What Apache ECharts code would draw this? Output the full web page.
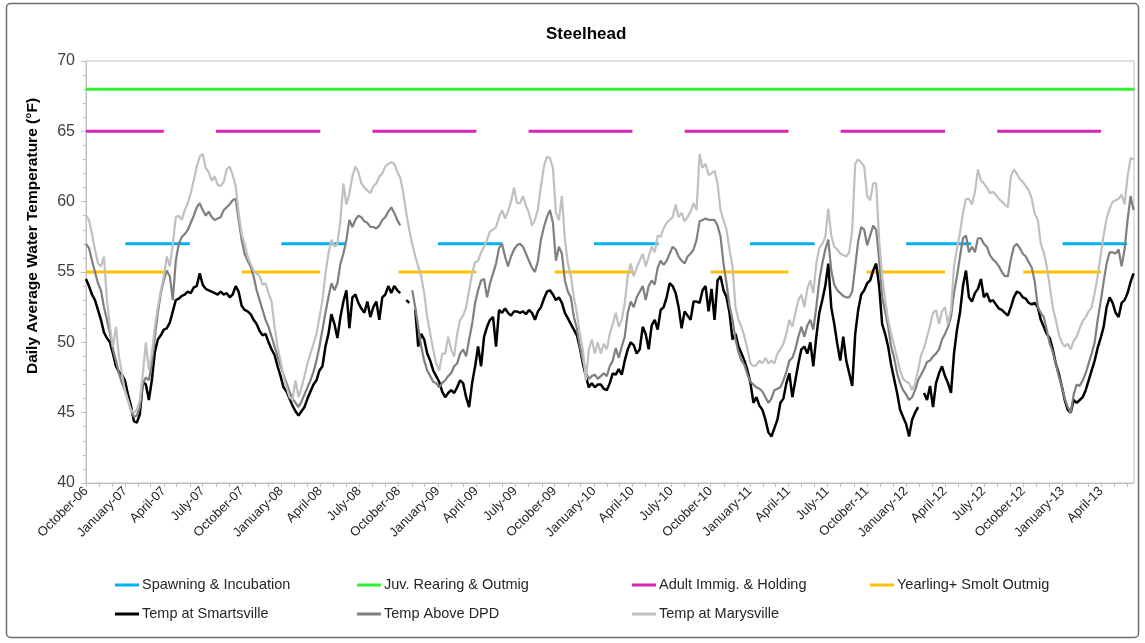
<!DOCTYPE html>
<html>
<head>
<meta charset="utf-8">
<title>Steelhead</title>
<script src="https://cdn.jsdelivr.net/npm/echarts@6/dist/echarts.min.js"></script>
<style>
  html, body { margin: 0; padding: 0; background: #ffffff; }
  #chart { width: 1145px; height: 643px; }
</style>
</head>
<body>
<div id="chart"></div>
<script>
// ---- Daily average water temperature (°F), sampled weekly from 1 Oct 2006 ----
const sampleStart = '2006-10-01';
const sampleStepDays = 7;

const tempSmartsville = [
  54.5, 54.0, 53.4, 53.0, 52.3, 51.6, 50.7, 50.3, 50.0, 49.2,
  48.3, 47.9, 47.7, 47.3, 46.3, 45.5, 44.4, 44.3, 44.9, 47.2,
  47.0, 45.9, 47.3, 49.3, 50.2, 50.5, 50.9, 51.0, 51.4, 52.2,
  53.0, 53.1, 53.3, 53.4, 53.6, 53.5, 53.9, 54.0, 54.9, 54.1,
  53.8, 53.7, 53.6, 53.5, 53.4, 53.6, 53.4, 53.5, 53.2, 53.4,
  54.0, 53.6, 52.6, 52.3, 52.2, 52.0, 51.6, 51.3, 50.8, 50.5,
  50.6, 50.0, 49.5, 49.1, 48.3, 47.6, 46.8, 46.5, 46.0, 45.5,
  45.1, 44.8, 45.1, 45.4, 46.0, 46.5, 47.0, 47.3, 48.0, 48.3,
  49.7, 50.6, 52.0, 51.3, 50.3, 51.8, 52.9, 53.7, 51.0, 53.2,
  53.4, 52.8, 52.4, 52.1, 52.9, 51.8, 52.5, 52.9, 51.6, 53.2,
  53.4, 54.0, 53.5, 54.0, 53.7, 53.5, null, 53.0, 52.8, null,
  52.3, 49.7, 50.6, 50.2, 49.2, 48.7, 48.0, 47.6, 47.2, 46.5,
  46.1, 46.4, 46.6, 46.4, 46.8, 47.3, 47.1, 46.1, 45.4, 47.1,
  48.3, 49.7, 48.3, 50.4, 51.1, 51.6, 51.8, 49.7, 52.3, 52.1,
  52.4, 52.1, 51.9, 52.2, 52.2, 52.1, 52.2, 52.0, 52.3, 52.1,
  51.6, 52.2, 52.5, 53.1, 53.6, 53.7, 53.4, 53.0, 53.2, 52.8,
  52.1, 51.7, 51.3, 50.9, 50.5, 49.6, 48.5, 47.6, 46.8, 47.1,
  46.8, 47.0, 47.0, 46.7, 46.6, 47.1, 47.8, 47.7, 48.1, 47.7,
  48.7, 49.5, 50.0, 49.8, 49.2, 49.5, 51.1, 50.6, 49.5, 51.2,
  51.6, 50.9, 52.3, 52.5, 53.2, 54.2, 54.0, 53.5, 52.5, 51.0,
  52.2, 51.9, 51.6, 52.9, 52.9, 52.8, 53.7, 54.0, 52.2, 53.8,
  51.6, 54.4, 54.7, 53.7, 53.2, 52.1, 50.2, 50.6, 49.7, 49.2,
  48.7, 48.0, 47.1, 45.7, 46.1, 45.5, 45.2, 44.5, 43.6, 43.3,
  43.9, 44.5, 45.7, 46.0, 47.1, 47.8, 46.1, 47.3, 48.5, 49.5,
  49.7, 49.2, 50.0, 48.3, 50.4, 52.1, 53.0, 54.0, 55.6, 52.5,
  51.3, 49.9, 48.7, 50.4, 48.7, 47.8, 46.9, 50.6, 52.3, 53.4,
  53.7, 54.2, 54.4, 55.1, 55.6, 54.0, 51.3, 50.6, 49.7, 48.4,
  47.4, 46.4, 45.2, 44.7, 44.2, 43.3, 44.5, 45.0, 45.4, null,
  46.4, 45.9, 46.9, 45.4, 47.1, 47.8, 48.3, 47.6, 47.1, 46.4,
  49.2, 50.9, 52.1, 54.0, 55.1, 53.2, 52.9, 53.5, 53.8, 54.5,
  53.2, 53.5, 52.9, 53.0, 52.7, 52.4, 52.3, 52.1, 51.9, 52.5,
  53.2, 53.6, 53.5, 53.2, 53.1, 52.8, 52.7, 52.8, 52.5, 51.6,
  51.1, 50.6, 50.3, 49.5, 48.5, 47.8, 46.9, 45.9, 45.2, 45.0,
  45.9, 45.7, 45.9, 46.1, 46.6, 47.3, 48.0, 48.7, 49.6, 50.3,
  51.1, 52.5, 53.2, 52.8, 52.1, 51.8, 52.8, 53.0, 53.5, 54.3, 54.9
];

const tempAboveDPD = [
  57.0, 56.7, 55.8, 55.0, 54.2, 53.7, 52.5, 51.6, 50.6, 49.5,
  48.7, 47.8, 47.1, 46.6, 45.9, 45.2, 44.7, 44.8, 45.4, 47.1,
  47.5, 47.3, 48.5, 50.4, 52.1, 53.5, 54.4, 55.1, 54.7, 53.0,
  55.8, 57.0, 57.5, 57.7, 58.0, 58.5, 59.0, 59.6, 59.9, 59.4,
  59.0, 59.3, 58.9, 58.7, 58.8, 58.9, 59.4, 59.6, 59.8, 60.1,
  60.2, 58.7, 57.3, 56.3, 55.8, 55.4, 54.7, 53.7, 53.0, 52.3,
  51.6, 51.1, 50.4, 49.7, 49.0, 48.3, 47.7, 47.1, 46.5, 46.0,
  45.7, 45.4, 45.8, 46.3, 46.8, 47.3, 47.9, 48.7, 49.7, 50.9,
  52.1, 53.2, 54.2, 53.7, 54.2, 55.6, 56.3, 57.3, 58.7, 58.2,
  58.7, 59.0, 58.9, 58.6, 58.5, 58.2, 58.2, 58.1, 58.3, 58.7,
  58.9, 59.3, 59.6, 59.2, 58.7, 58.3, null, null, null, 53.7,
  52.5, 51.1, 49.7, 48.7, 48.0, 47.6, 47.2, 47.1, 46.8, 47.1,
  47.3, 47.6, 47.8, 48.3, 48.5, 49.2, 49.5, 49.0, 50.2, 51.3,
  52.8, 53.7, 54.4, 54.5, 53.2, 54.2, 54.9, 55.6, 56.7, 57.0,
  56.1, 55.4, 56.1, 56.6, 56.9, 57.0, 56.8, 56.3, 55.8, 55.3,
  55.0, 55.8, 57.3, 58.2, 58.9, 59.4, 58.5, 55.8, 56.8, 56.3,
  54.4, 53.6, 53.2, 51.8, 51.0, 49.7, 48.7, 47.9, 47.4, 47.6,
  47.7, 47.4, 47.6, 47.8, 47.6, 48.3, 48.7, 49.6, 48.9, 49.7,
  50.4, 52.1, 52.9, 52.5, 53.2, 53.6, 54.0, 53.0, 54.0, 54.4,
  54.1, 55.3, 55.8, 55.5, 55.8, 56.3, 56.8, 56.6, 56.1, 55.8,
  55.6, 56.1, 56.3, 56.6, 57.3, 58.6, 58.7, 58.8, 58.7, 58.7,
  58.7, 58.3, 57.5, 55.6, 54.2, 52.6, 51.6, 50.2, 49.3, 48.7,
  48.4, 47.7, 47.2, 47.0, 46.8, 46.7, 46.5, 46.1, 45.7, 46.0,
  46.6, 46.7, 46.8, 47.3, 47.9, 48.7, 48.9, 49.5, 50.4, 51.1,
  50.4, 51.2, 51.6, 50.9, 52.5, 54.4, 55.6, 56.6, 57.3, 55.1,
  54.1, 53.7, 53.5, 53.3, 53.2, 53.2, 53.6, 55.4, 57.2, 58.2,
  58.0, 56.9, 57.6, 58.3, 58.0, 55.9, 53.2, 52.2, 51.1, 49.7,
  48.9, 47.8, 47.1, 46.6, 46.3, 45.9, 46.1, 46.6, 47.3, 47.7,
  48.1, 48.6, 48.7, 49.0, 49.2, 49.5, 50.2, 50.6, 51.1, 51.8,
  53.5, 54.7, 56.1, 57.4, 57.6, 56.4, 56.8, 56.4, 57.4, 57.4,
  57.0, 56.8, 56.2, 55.9, 55.7, 55.4, 55.0, 54.7, 54.7, 55.9,
  56.8, 57.0, 56.7, 56.3, 56.1, 55.7, 55.3, 54.3, 52.5, 52.1,
  51.8, 50.9, 49.9, 49.3, 48.5, 47.6, 46.9, 46.0, 45.4, 45.0,
  46.3, 47.0, 46.9, 47.3, 47.8, 48.5, 49.2, 50.0, 51.6, 52.9,
  54.3, 55.6, 56.4, 56.4, 56.3, 56.6, 55.4, 56.6, 58.7, 60.4, 59.4
];

const tempMarysville = [
  59.0, 58.7, 57.7, 56.6, 55.6, 55.4, 56.1, 53.0, 51.1, 49.7,
  51.1, 49.0, 47.8, 46.6, 45.9, 45.2, 45.0, 45.2, 45.9, 47.8,
  50.0, 48.0, 49.2, 51.1, 52.5, 53.7, 54.7, 56.1, 55.4, 57.0,
  58.9, 59.0, 58.7, 59.4, 59.9, 60.6, 61.5, 62.5, 63.2, 63.4,
  62.4, 62.1, 61.5, 61.8, 61.2, 61.1, 61.4, 62.3, 62.5, 61.9,
  61.1, 59.2, 57.7, 57.0, 56.1, 55.6, 55.1, 54.9, 54.7, 54.1,
  54.2, 53.5, 52.9, 51.1, 49.7, 48.7, 47.6, 46.8, 46.1, 45.9,
  47.3, 46.1, 46.8, 47.6, 48.5, 49.2, 49.9, 50.6, 51.8, 53.0,
  54.9, 56.3, 57.3, 56.8, 57.0, 58.7, 61.3, 59.8, 60.6, 61.8,
  62.5, 62.1, 61.3, 61.0, 60.8, 60.6, 61.1, 61.3, 61.8, 62.0,
  62.5, 62.7, 62.8, 62.7, 62.1, 61.7, 60.6, 59.2, 58.0, 57.0,
  56.1, 55.4, 54.7, 53.5, 51.8, 50.6, 49.5, 48.5, 48.0, 49.2,
  49.2, 50.4, 49.5, 49.0, 50.6, 51.6, 51.9, 52.5, 53.7, 54.9,
  55.7, 55.8, 56.4, 56.8, 57.3, 57.9, 58.0, 58.2, 58.9, 59.4,
  58.8, 59.3, 60.0, 61.0, 59.9, 59.9, 60.4, 59.7, 59.2, 58.3,
  58.7, 59.5, 61.1, 62.5, 63.2, 63.1, 62.4, 59.2, 58.7, 60.4,
  57.3, 55.6, 54.7, 53.2, 52.1, 50.6, 49.5, 47.3, 49.5, 50.2,
  49.2, 50.0, 49.2, 49.9, 49.5, 50.6, 51.3, 52.1, 51.1, 51.6,
  52.8, 54.7, 55.6, 54.7, 55.3, 55.8, 56.3, 55.4, 56.1, 56.8,
  56.4, 57.6, 57.5, 58.1, 58.5, 58.7, 58.9, 59.8, 58.9, 59.2,
  58.6, 58.9, 59.3, 59.9, 59.4, 63.4, 62.4, 62.7, 61.9, 62.0,
  62.2, 61.3, 59.4, 58.7, 58.0, 56.6, 55.4, 52.5, 51.6, 51.1,
  50.4, 49.5, 48.5, 48.3, 48.4, 48.7, 48.5, 48.9, 48.5, 48.7,
  48.5, 49.2, 49.5, 49.9, 50.6, 51.6, 51.1, 52.1, 53.0, 53.4,
  52.5, 53.8, 54.4, 53.5, 55.6, 56.7, 57.0, 57.5, 59.5, 57.6,
  56.8, 56.6, 56.3, 56.2, 56.1, 56.4, 58.0, 62.7, 63.0, 62.8,
  62.5, 60.4, 60.1, 61.3, 61.3, 57.3, 54.7, 53.0, 51.6, 50.6,
  49.8, 48.9, 48.0, 47.4, 47.2, 47.1, 46.6, 47.1, 48.0, 49.1,
  49.6, 50.4, 51.2, 52.1, 52.3, 51.3, 52.2, 52.5, 51.3, 52.3,
  55.4, 56.7, 57.8, 59.2, 60.2, 60.2, 59.8, 60.7, 62.3, 61.5,
  61.3, 61.0, 60.6, 60.7, 60.5, 60.2, 60.0, 59.8, 59.6, 61.8,
  62.3, 62.0, 61.6, 61.4, 61.1, 60.8, 60.2, 59.1, 58.7, 57.0,
  56.4, 55.4, 54.0, 52.5, 51.6, 50.6, 50.0, 49.7, 49.9, 49.5,
  50.1, 50.4, 51.0, 51.5, 51.8, 52.2, 52.5, 53.5, 54.7, 56.2,
  57.6, 58.8, 59.5, 60.0, 60.1, 60.2, 60.5, 59.8, 61.8, 63.1, 63.0
];

// ---- Temperature criteria (°F) and the periods they apply ----
const spawningTemp = 57;
const spawningPeriods = [
  ['2007-01-01', '2007-05-31'], ['2008-01-01', '2008-05-31'], ['2009-01-01', '2009-05-31'],
  ['2010-01-01', '2010-05-31'], ['2011-01-01', '2011-05-31'], ['2012-01-01', '2012-05-31'],
  ['2013-01-01', '2013-05-31']
];
const juvRearingTemp = 68;
const juvRearingPeriods = [['2006-10-01', '2013-06-17']];
const adultTemp = 65;
const adultPeriods = [
  ['2006-10-01', '2007-03-31'], ['2007-08-01', '2008-03-31'], ['2008-08-01', '2009-03-31'],
  ['2009-08-01', '2010-03-31'], ['2010-08-01', '2011-03-31'], ['2011-08-01', '2012-03-31'],
  ['2012-08-01', '2013-03-31']
];
const yearlingTemp = 55;
const yearlingPeriods = [
  ['2006-10-01', '2007-03-31'], ['2007-10-01', '2008-03-31'], ['2008-10-01', '2009-03-31'],
  ['2009-10-01', '2010-03-31'], ['2010-10-01', '2011-03-31'], ['2011-10-01', '2012-03-31'],
  ['2012-10-01', '2013-03-31']
];

// ---- Axis range and tick labels ----
const axisStart = '2006-10-01';
const axisEnd = '2013-06-17';
const yMin = 40, yMax = 70, yStep = 5;
const monthNames = ['January', 'February', 'March', 'April', 'May', 'June', 'July',
  'August', 'September', 'October', 'November', 'December'];
const labelMonths = [0, 3, 6, 9];

const FONT = '"Liberation Sans", Arial, Helvetica, sans-serif';
const DAY_MS = 86400000;

// the x axis counts days from axisStart
const origin = Date.parse(axisStart);
const dayOf = (iso) => Math.round((Date.parse(iso) - origin) / DAY_MS);
const s0 = dayOf(sampleStart);
const toSeries = (values) => values.map((v, i) => [s0 + i * sampleStepDays, v === null ? '-' : v]);

// flat criterion segments separated by gaps
function periodLine(periods, temp) {
  const out = [];
  periods.forEach(([a, b]) => {
    out.push([dayOf(a), temp], [dayOf(b) + 1, temp], [dayOf(b) + 1.5, '-']);
  });
  return out;
}

// month starts for ticks, quarter starts for labels
const tickValues = [], labelValues = [];
{
  const endDay = dayOf(axisEnd);
  let y = 2006, m = 9;
  while (true) {
    const d = Math.round((Date.UTC(y, m, 1) - origin) / DAY_MS);
    if (d > endDay) break;
    tickValues.push(d);
    if (labelMonths.includes(m)) labelValues.push(d);
    m++; if (m > 11) { m = 0; y++; }
  }
}

const chart = echarts.init(document.getElementById('chart'), null, { renderer: 'canvas' });

const criterion = (name, color, data) => ({
  name, type: 'line', data, showSymbol: false, symbol: 'none', connectNulls: false,
  lineStyle: { color, width: 3 }, itemStyle: { color }, animation: false, z: 2
});
const measured = (name, color, values, width, z) => ({
  name, type: 'line', data: toSeries(values), showSymbol: false, symbol: 'none', connectNulls: false,
  lineStyle: { color, width }, itemStyle: { color }, animation: false, z
});

const legendCommon = {
  orient: 'vertical', icon: 'rect', itemWidth: 24, itemHeight: 3, itemGap: 13, padding: 0,
  selectedMode: false,
  textStyle: { fontFamily: FONT, fontSize: 14.5, color: '#262626', lineHeight: 16, padding: [0, 0, 0, -2] }
};

chart.setOption({
  animation: false,
  backgroundColor: '#ffffff',
  title: {
    text: 'Steelhead', left: 541, top: 21,
    textStyle: { fontFamily: FONT, fontSize: 17, fontWeight: 'bold', color: '#000000' }
  },
  grid: { left: 86, right: 11, top: 61, bottom: 160, show: true, borderColor: '#c0c0c0', borderWidth: 1 },
  legend: [
    Object.assign({ left: 115, top: 577, data: ['Spawning & Incubation', 'Temp at Smartsville'] }, legendCommon),
    Object.assign({ left: 357, top: 577, data: ['Juv. Rearing & Outmig', 'Temp Above DPD'] }, legendCommon),
    Object.assign({ left: 632, top: 577, data: ['Adult Immig. & Holding', 'Temp at Marysville'] }, legendCommon),
    Object.assign({ left: 870, top: 577, data: ['Yearling+ Smolt Outmig'] }, legendCommon)
  ],
  xAxis: {
    type: 'value',
    min: 0, max: dayOf(axisEnd),
    axisLine: { show: true, lineStyle: { color: '#bfbfbf', width: 1 } },
    axisTick: { show: true, customValues: tickValues, length: 4, lineStyle: { color: '#bfbfbf' } },
    axisLabel: {
      customValues: labelValues, rotate: 45, margin: 6, hideOverlap: false,
      fontFamily: FONT, fontSize: 13, color: '#262626',
      formatter: (v) => {
        const d = new Date(origin + v * DAY_MS);
        return monthNames[d.getUTCMonth()] + '-' + String(d.getUTCFullYear()).slice(2);
      }
    },
    splitLine: { show: false }
  },
  yAxis: {
    type: 'value', min: yMin, max: yMax, interval: yStep,
    axisLine: { show: true, lineStyle: { color: '#bfbfbf', width: 1 } },
    axisTick: { show: true, length: 5, lineStyle: { color: '#bfbfbf' } },
    minorTick: { show: true, splitNumber: 5, length: 3, lineStyle: { color: '#bfbfbf' } },
    axisLabel: { fontFamily: FONT, fontSize: 16, color: '#404040', margin: 11 },
    splitLine: { show: false }
  },
  graphic: [
    {
      type: 'rect', silent: true, z: -1,
      shape: { x: 6.5, y: 3.5, width: 1132, height: 634, r: 4 },
      style: { fill: null, stroke: '#6e6e6e', lineWidth: 1.5 }
    },
    {
      type: 'text', silent: true,
      x: 33, y: 236, rotation: Math.PI / 2,
      style: {
        text: 'Daily Average Water Temperature (°F)',
        font: 'bold 15.5px ' + FONT, fill: '#000000',
        align: 'center', verticalAlign: 'middle'
      }
    }
  ],
  series: [
    criterion('Spawning & Incubation', '#00b0f0', periodLine(spawningPeriods, spawningTemp)),
    criterion('Juv. Rearing & Outmig', '#33ee33', periodLine(juvRearingPeriods, juvRearingTemp)),
    criterion('Adult Immig. & Holding', '#d624b4', periodLine(adultPeriods, adultTemp)),
    criterion('Yearling+ Smolt Outmig', '#ffc000', periodLine(yearlingPeriods, yearlingTemp)),
    measured('Temp at Smartsville', '#000000', tempSmartsville, 2.5, 3),
    measured('Temp Above DPD', '#7f7f7f', tempAboveDPD, 2.2, 4),
    measured('Temp at Marysville', '#c0c0c0', tempMarysville, 2.2, 5)
  ]
});
</script>
</body>
</html>
